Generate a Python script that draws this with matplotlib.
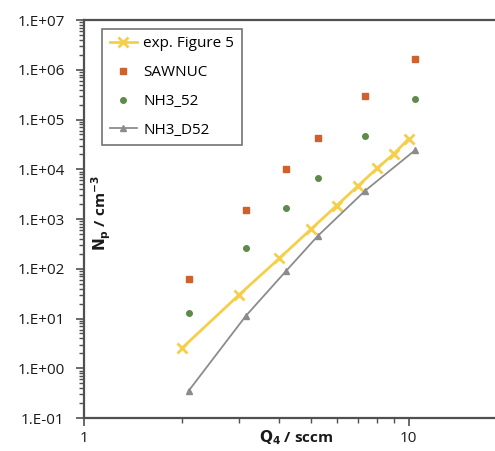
import numpy as np
import matplotlib
matplotlib.use('Agg')
import matplotlib.pyplot as plt
from matplotlib.ticker import LogLocator, NullFormatter, FixedLocator, FixedFormatter

# data
exp_q = [2, 3, 4, 5, 6, 7, 8, 9, 10]
exp_n = [2.5, 29.6, 162, 620, 1850, 4670, 10450, 20200, 40600]

sim_q = [2.1, 3.15, 4.2, 5.25, 7.35, 10.5]
sawnuc_n = [61, 1520, 9970, 41900, 296000, 1.64e6]
nh3_52_n = [12.7, 265, 1640, 6760, 46600, 258000]
nh3_d52_n = [0.35, 11.2, 91, 455, 3700, 24400]

y_ticks = [1e-1, 1e0, 1e1, 1e2, 1e3, 1e4, 1e5, 1e6, 1e7]
y_labels = ['1.E-01', '1.E+00', '1.E+01', '1.E+02', '1.E+03', '1.E+04', '1.E+05', '1.E+06', '1.E+07']

plt.rcParams['font.family'] = ['Open Sans', 'DejaVu Sans']
spine_col = '#505050'

fig = plt.figure(figsize=(4.95, 4.51), dpi=100)
ax = fig.add_axes([84 / 495, 33 / 451, 1 - 84 / 495, 398 / 451])

ax.plot(exp_q, exp_n, color='#F5CF4A', lw=2, marker='x', ms=7, mew=2, label='exp. Figure 5', zorder=3)
ax.plot(sim_q, sawnuc_n, ls='none', marker='s', ms=4.5, color='#D0602C', label='SAWNUC', zorder=4)
ax.plot(sim_q, nh3_52_n, ls='none', marker='o', ms=4, color='#5E8A4A', label='NH3_52', zorder=4)
ax.plot(sim_q, nh3_d52_n, color='#8C8C8C', lw=1.3, marker='^', ms=4, label='NH3_D52', zorder=3)

ax.set_xscale('log')
ax.set_yscale('log')
ax.set_xlim(1, 10 ** ((495 - 84) / 324.5))
ax.set_ylim(1e-1, 1e7)

ax.xaxis.set_major_locator(FixedLocator([1, 10]))
ax.xaxis.set_major_formatter(FixedFormatter(['1', '10']))
ax.xaxis.set_minor_locator(LogLocator(base=10, subs=np.arange(2, 10)))
ax.xaxis.set_minor_formatter(NullFormatter())
ax.yaxis.set_major_locator(FixedLocator(y_ticks))
ax.yaxis.set_major_formatter(FixedFormatter(y_labels))
ax.yaxis.set_minor_locator(LogLocator(base=10, subs=np.arange(2, 10), numticks=20))
ax.yaxis.set_minor_formatter(NullFormatter())

ax.tick_params(axis='both', which='major', labelsize=11, length=6, width=1.2,
               color=spine_col, labelcolor='#1a1a1a', pad=8)
ax.tick_params(axis='both', which='minor', length=3.5, width=1, color=spine_col)
ax.tick_params(axis='x', which='major', pad=3)

for side in ['left', 'top', 'bottom']:
    ax.spines[side].set_color(spine_col)
    ax.spines[side].set_linewidth(1.6)
ax.spines['right'].set_visible(False)

ax.text(0.042, 0.515, r'$\mathbf{N_p}$ / cm$^{\mathbf{-3}}$', transform=ax.transAxes,
        rotation=90, ha='center', va='center', fontsize=11, fontweight='bold', color='#1a1a1a')
ax.text(0.516, -0.05, r'$\mathbf{Q_4}$ / sccm', transform=ax.transAxes,
        ha='center', va='center', fontsize=11, fontweight='bold', color='#1a1a1a')

leg = ax.legend(loc='upper left', bbox_to_anchor=(0.025, 0.997), fontsize=11,
                frameon=True, fancybox=False, edgecolor=spine_col, borderpad=0.5,
                labelspacing=0.9, handlelength=1.8, handletextpad=0.4)
leg.get_frame().set_linewidth(1.2)

fig.savefig('out.png', dpi=100)
